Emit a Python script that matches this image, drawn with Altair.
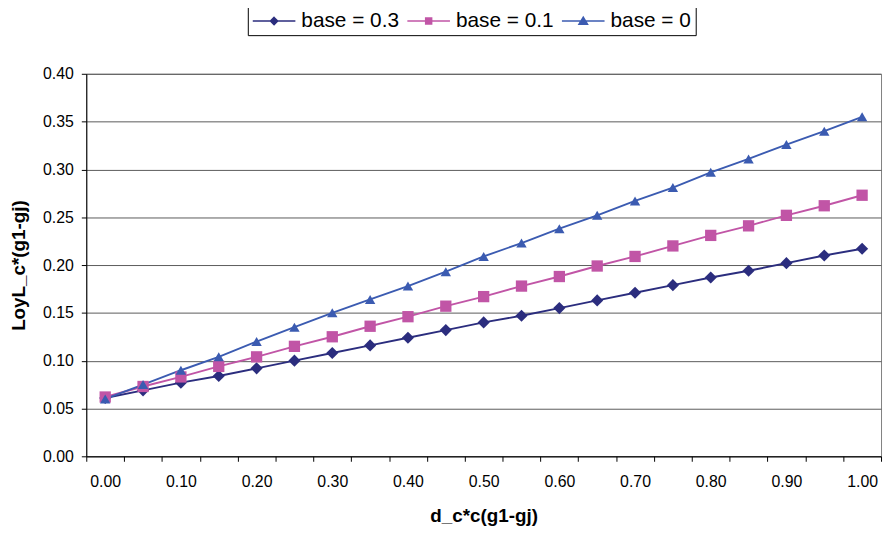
import altair as alt
import pandas as pd

# ---- data ----
x_vals = [0.00, 0.05, 0.10, 0.15, 0.20, 0.25, 0.30, 0.35, 0.40, 0.45, 0.50,
          0.55, 0.60, 0.65, 0.70, 0.75, 0.80, 0.85, 0.90, 0.95, 1.00]
series_names = ["base = 0.3", "base = 0.1", "base = 0"]
y_base03 = [0.061, 0.069, 0.077, 0.084, 0.092, 0.100, 0.108, 0.116, 0.124, 0.132, 0.140,
            0.147, 0.155, 0.163, 0.171, 0.179, 0.187, 0.194, 0.202, 0.210, 0.217]
y_base01 = [0.062, 0.073, 0.083, 0.094, 0.104, 0.115, 0.125, 0.136, 0.146, 0.157, 0.167,
            0.178, 0.188, 0.199, 0.209, 0.220, 0.231, 0.241, 0.252, 0.262, 0.273]
y_base0 = [0.060, 0.075, 0.090, 0.104, 0.120, 0.135, 0.150, 0.164, 0.178, 0.193, 0.209,
           0.223, 0.238, 0.252, 0.267, 0.281, 0.297, 0.311, 0.326, 0.340, 0.355]
y_ticks = [0.00, 0.05, 0.10, 0.15, 0.20, 0.25, 0.30, 0.35, 0.40]

colors = ["#2b2d7e", "#c155a6", "#3b5bb1"]
shapes = ["diamond", "square", "triangle-up"]
sizes = [150, 110, 210]
legend_paths = [
    "M-1,0H1M0,-0.17L0.17,0L0,0.17L-0.17,0Z",
    "M-1,0H1M-0.14,-0.14H0.14V0.14H-0.14Z",
    "M-1,0H1M0,-0.18L0.2,0.15L-0.2,0.15Z",
]

rows = []
for name, ys in zip(series_names, [y_base03, y_base01, y_base0]):
    for xv, yv in zip(x_vals, ys):
        rows.append({"x": xv, "y": yv, "series": name})
df = pd.DataFrame(rows)

FONT = "Liberation Sans"

x_enc = alt.X(
    "x:O",
    scale=alt.Scale(paddingInner=0, paddingOuter=0),
    axis=alt.Axis(
        title="d_c*c(g1-gj)",
        labelAngle=0,
        tickBand="extent",
        labelExpr="round(datum.value*20) % 2 == 0 ? format(datum.value, '.2f') : ''",
        grid=False,
        domainColor="#000000",
        tickColor="#000000",
        tickSize=5,
        labelPadding=12,
        labelFontSize=16,
        labelColor="#000000",
        labelFont=FONT,
        titleFont=FONT,
        titleFontSize=19,
        titleFontWeight="bold",
        titleColor="#000000",
        titlePadding=18,
    ),
)
y_enc = alt.Y(
    "y:Q",
    scale=alt.Scale(domain=[0, 0.4], nice=False),
    axis=alt.Axis(
        title="LoyL_c*(g1-gj)",
        values=y_ticks,
        format=".2f",
        grid=True,
        gridColor="#5a5a5a",
        gridWidth=1,
        domainColor="#000000",
        tickColor="#000000",
        tickSize=5,
        labelPadding=8,
        labelFontSize=16,
        labelColor="#000000",
        labelFont=FONT,
        titleFont=FONT,
        titleFontSize=19,
        titleFontWeight="bold",
        titleColor="#000000",
        titlePadding=14,
    ),
)

color_scale = alt.Scale(domain=series_names, range=colors)

lines = alt.Chart(df).mark_line(strokeWidth=1.9).encode(
    x=x_enc,
    y=y_enc,
    color=alt.Color("series:N", scale=color_scale, legend=None),
    detail="series:N",
)

points = alt.Chart(df).mark_point(filled=True, opacity=1).encode(
    x=x_enc,
    y=y_enc,
    color=alt.Color("series:N", scale=color_scale, legend=None),
    shape=alt.Shape("series:N", scale=alt.Scale(domain=series_names, range=shapes), legend=None),
    size=alt.Size("series:N", scale=alt.Scale(domain=series_names, range=sizes), legend=None),
)

legend_def = alt.Legend(
    title=None,
    orient="none",
    legendX=163,
    legendY=-80,
    direction="horizontal",
    strokeColor="#000000",
    fillColor="#ffffff",
    padding=4,
    symbolSize=1849,
    symbolStrokeWidth=1.5,
    symbolOpacity=1,
    labelFontSize=21,
    labelFont=FONT,
    labelColor="#000000",
    labelOffset=5,
    columnPadding=5,
)

legend_layer = (
    alt.Chart(df)
    .transform_filter("false")
    .mark_point(filled=True, strokeWidth=1.5)
    .encode(
        x=x_enc,
        y=y_enc,
        fill=alt.Fill("series:N", scale=alt.Scale(domain=series_names, range=colors), legend=legend_def),
        stroke=alt.Stroke("series:N", scale=alt.Scale(domain=series_names, range=colors), legend=legend_def),
        shape=alt.Shape("series:N", scale=alt.Scale(domain=series_names, range=legend_paths), legend=legend_def),
    )
)

chart = (
    alt.layer(lines, points, legend_layer)
    .resolve_scale(shape="independent", fill="independent", stroke="independent")
    .properties(
        width=802,
        height=386,
        autosize=alt.AutoSizeParams(type="none"),
        padding={"left": 79, "top": 64, "right": 3, "bottom": 75},
        background="#ffffff",
    )
    .configure_view(stroke="#808080", strokeWidth=1)
)

chart.save("out.html", embed_options={"renderer": "svg", "actions": False})
